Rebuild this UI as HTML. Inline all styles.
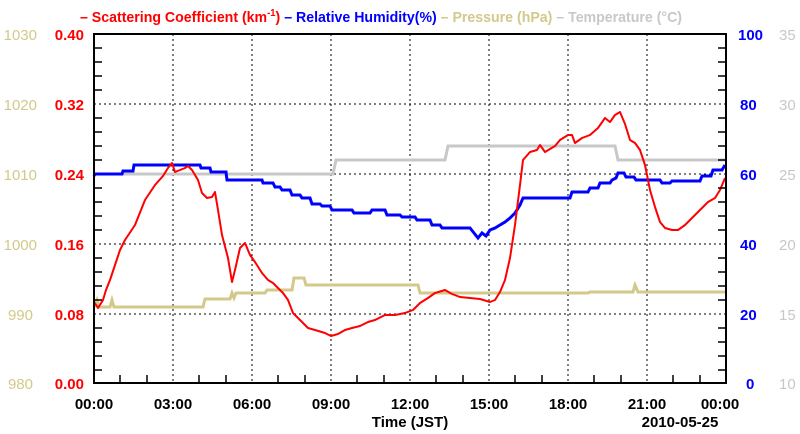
<!DOCTYPE html>
<html><head><meta charset="utf-8"><style>
body{margin:0;background:#fff;}
svg{display:block;font-family:"Liberation Sans",sans-serif;font-weight:bold;}
</style></head><body>
<svg width="800" height="434" viewBox="0 0 800 434">
<g stroke="#000" stroke-width="1" stroke-dasharray="2,3">
<line x1="173" y1="34" x2="173" y2="383"/><line x1="252" y1="34" x2="252" y2="383"/>
<line x1="331" y1="34" x2="331" y2="383"/><line x1="410" y1="34" x2="410" y2="383"/>
<line x1="489" y1="34" x2="489" y2="383"/><line x1="568" y1="34" x2="568" y2="383"/>
<line x1="647" y1="34" x2="647" y2="383"/>
<line x1="94" y1="104" x2="726" y2="104"/><line x1="94" y1="174" x2="726" y2="174"/>
<line x1="94" y1="244" x2="726" y2="244"/><line x1="94" y1="314" x2="726" y2="314"/>
</g>
<polyline fill="none" stroke="#c8c8c8" stroke-width="3" points="94,174 333,174 336,160 445,160 448,146 615,146 618,160 725,160"/>
<polyline fill="none" stroke="#d2c98a" stroke-width="3" points="94,307 97,300 99,307 110,307 112,300 114,307 203,307 205,299 230,299 232,293 234,298 236,293 265,293 267,290 292,290 294,278 304,278 306,285 418,285 420,293 588,293 590,292 633,292 635,285 638,292 725,292"/>
<polyline fill="none" stroke="#0000ff" stroke-width="3" points="94,176 95,174 122,174 123,171 133,171 134,165 200,165 201,168 210,168 211,172 226,172 227,180 262,180 263,183 273,183 275,187 280,187 282,190 290,190 292,195 300,195 302,198 310,198 312,204 320,204 322,206 330,206 332,210 352,210 354,213 370,213 372,210 385,210 387,215 400,215 402,217 415,217 417,220 430,220 432,225 440,225 442,228 465,228 470,228 474,233 478,238 482,233 486,236 490,230 495,228 500,225 505,222 510,218 515,213 520,205 523,198 570,198 572,192 588,192 590,188 598,188 600,183 610,183 612,180 616,178 618,173 624,173 626,177 634,177 636,180 660,180 662,183 670,183 672,181 700,181 702,176 711,176 713,170 722,170 725,165"/>
<polyline fill="none" stroke="#ff0000" stroke-width="2" stroke-linejoin="round" points="94,302 98,308 103,300 106,290 110,280 115,265 120,250 125,240 135,225 145,200 155,185 163,176 168,168 172,163 175,172 180,170 185,168 188,166 192,170 198,180 202,193 207,198 212,197 215,192 218,210 222,235 228,258 232,282 235,270 240,248 245,243 250,255 255,262 262,273 268,280 273,283 278,288 283,293 288,300 293,313 300,320 308,328 315,330 325,333 331,336 338,334 345,330 352,328 360,326 368,322 375,320 385,315 395,315 405,313 413,310 420,303 428,298 435,293 445,290 452,294 460,297 470,298 480,299 490,302 495,300 500,292 505,280 510,258 515,225 520,185 523,160 530,152 537,150 540,145 545,152 555,146 560,140 568,135 572,135 575,143 582,138 590,135 598,128 605,118 610,122 615,115 620,112 625,124 630,140 635,143 640,150 645,165 650,190 655,207 660,222 665,228 672,230 678,230 685,225 692,218 700,210 708,202 715,198 720,190 725,178"/>
<rect x="94" y="34" width="632" height="349" fill="none" stroke="#000" stroke-width="2"/>
<g stroke="#000" stroke-width="1.5">
<path d="M94,48h8M94,62h8M94,76h8M94,90h8M94,118h8M94,132h8M94,146h8M94,160h8M94,188h8M94,202h8M94,216h8M94,230h8M94,258h8M94,272h8M94,286h8M94,300h8M94,328h8M94,342h8M94,356h8M94,370h8"/>
<path d="M726,48h-8M726,62h-8M726,76h-8M726,90h-8M726,118h-8M726,132h-8M726,146h-8M726,160h-8M726,188h-8M726,202h-8M726,216h-8M726,230h-8M726,258h-8M726,272h-8M726,286h-8M726,300h-8M726,328h-8M726,342h-8M726,356h-8M726,370h-8"/>
<path d="M120,383v-8M147,383v-8M199,383v-8M226,383v-8M278,383v-8M305,383v-8M357,383v-8M384,383v-8M436,383v-8M463,383v-8M515,383v-8M542,383v-8M594,383v-8M621,383v-8M673,383v-8M700,383v-8"/>
</g>
<text y="22" font-size="15" x="80" textLength="602" lengthAdjust="spacingAndGlyphs"><tspan fill="#ff0000">– Scattering Coefficient (km</tspan><tspan fill="#ff0000" font-size="10" dy="-6">-1</tspan><tspan fill="#ff0000" dy="6">) </tspan><tspan fill="#0000ff">– Relative Humidity(%) </tspan><tspan fill="#d2c98a">– Pressure (hPa) </tspan><tspan fill="#c8c8c8">– Temperature (°C)</tspan></text>
<g font-size="15" text-anchor="end" fill="#ff0000">
<text x="84" y="40">0.40</text><text x="84" y="110">0.32</text><text x="84" y="180">0.24</text><text x="84" y="250">0.16</text><text x="84" y="320">0.08</text><text x="84" y="389">0.00</text>
</g>
<g font-size="15" text-anchor="end" fill="#d2c98a" font-weight="normal">
<text x="37" y="40">1030</text><text x="37" y="110">1020</text><text x="37" y="180">1010</text><text x="37" y="250">1000</text><text x="33" y="320">990</text><text x="33" y="389">980</text>
</g>
<g font-size="15" fill="#0000ff">
<text x="738" y="40">100</text><text x="740" y="110">80</text><text x="740" y="180">60</text><text x="740" y="250">40</text><text x="740" y="320">20</text><text x="746" y="389">0</text>
</g>
<g font-size="15" fill="#c8c8c8" font-weight="normal">
<text x="779" y="40">35</text><text x="779" y="110">30</text><text x="779" y="180">25</text><text x="779" y="250">20</text><text x="779" y="320">15</text><text x="779" y="389">10</text>
</g>
<g font-size="15" fill="#000" text-anchor="middle">
<text x="94" y="409">00:00</text><text x="173" y="409">03:00</text><text x="252" y="409">06:00</text><text x="331" y="409">09:00</text><text x="410" y="409">12:00</text><text x="489" y="409">15:00</text><text x="568" y="409">18:00</text><text x="647" y="409">21:00</text><text x="720" y="409">00:00</text>
<text x="410" y="427">Time (JST)</text><text x="680" y="427">2010-05-25</text>
</g>
</svg>
</body></html>
